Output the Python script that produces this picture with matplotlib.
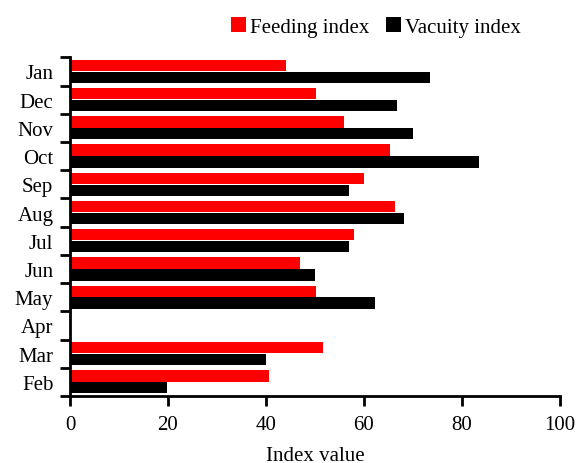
import numpy as np
import matplotlib.pyplot as plt
from matplotlib.ticker import FixedLocator, NullFormatter

plt.rcParams['font.family'] = ['Liberation Serif', 'DejaVu Serif']

# monthly feeding / vacuity index, listed bottom to top
months = ['Feb', 'Mar', 'Apr', 'May', 'Jun', 'Jul', 'Aug', 'Sep', 'Oct', 'Nov', 'Dec', 'Jan']
feeding = [40.7, 51.6, 0, 50.3, 46.9, 58.0, 66.4, 60.0, 65.4, 55.9, 50.3, 44.1]
vacuity = [19.9, 40.0, 0, 62.3, 50.0, 56.9, 68.2, 56.9, 83.5, 70.0, 66.8, 73.5]
xticks = [0, 20, 40, 60, 80, 100]

pos = np.arange(len(months))
h = 0.4

fig = plt.figure(figsize=(5.77, 4.64), dpi=100)
ax = fig.add_axes([0.1213, 0.1445, 0.849, 0.7299])

ax.barh(pos + 0.21, feeding, height=h, color='#ff0000', label='Feeding index')
ax.barh(pos - 0.21, vacuity, height=h, color='black', label='Vacuity index')

ax.set_xlim(0, 100)
ax.set_ylim(-0.5, len(months) - 0.5)
ax.set_xticks(xticks)

# labels sit at the centre of each month, ticks mark the boundaries
ax.set_yticks(pos)
ax.set_yticklabels(months)
ax.yaxis.set_minor_locator(FixedLocator(np.arange(len(months) + 1) - 0.5))
ax.yaxis.set_minor_formatter(NullFormatter())
ax.tick_params(axis='y', which='major', length=0, pad=12, labelsize=15)
ax.tick_params(axis='y', which='minor', length=7, width=2, direction='out')
ax.tick_params(axis='x', length=7, width=2, direction='out', pad=7, labelsize=15)

for s in ['top', 'right']:
    ax.spines[s].set_visible(False)
for s in ['left', 'bottom']:
    ax.spines[s].set_linewidth(2)

ax.set_xlabel('Index value', fontsize=15, labelpad=8)

ax.legend(loc='center', bbox_to_anchor=(0.625, 1.09), ncol=2, frameon=False,
          fontsize=15, handlelength=0.7, handleheight=0.7, handletextpad=0.2,
          columnspacing=0.8)

fig.savefig('out.png', dpi=100)
